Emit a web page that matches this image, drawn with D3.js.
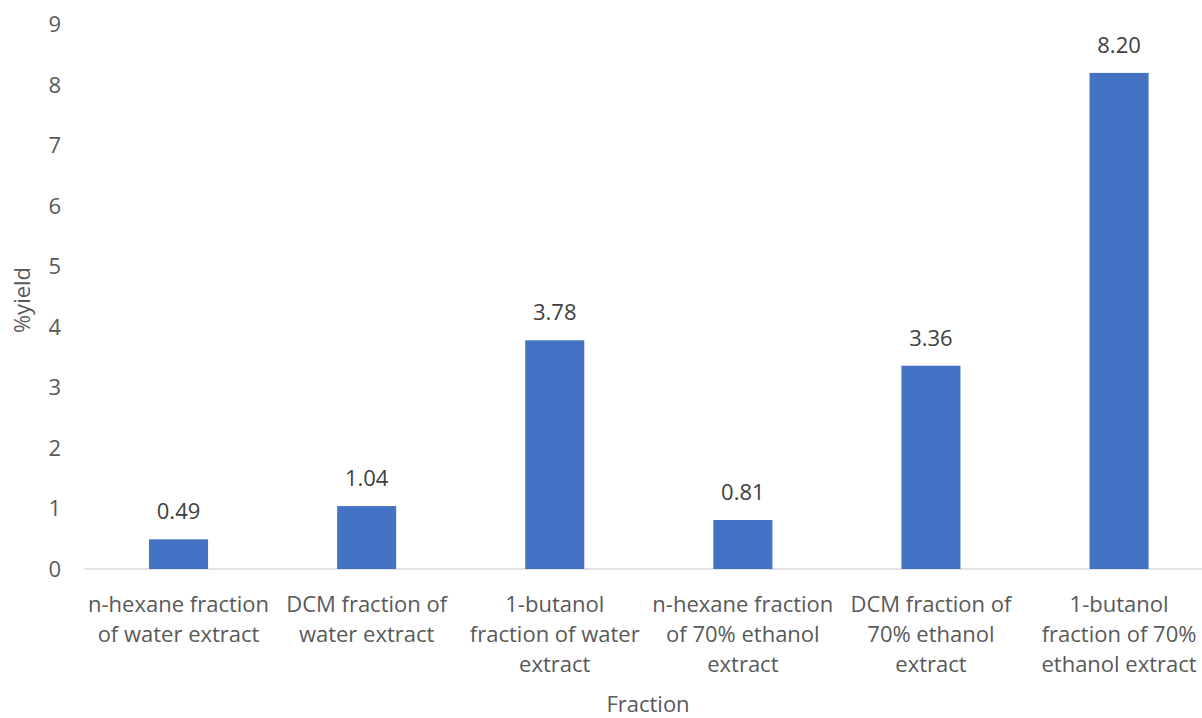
<!DOCTYPE html>
<html>
<head>
<meta charset="utf-8">
<script src="https://cdn.jsdelivr.net/npm/d3@7"></script>
<style>
  html, body { margin: 0; padding: 0; background: #fff; }
  svg { display: block; font-family: "Open Sans", "Noto Sans", sans-serif; }
</style>
</head>
<body>
<svg id="chart" width="1202" height="718"></svg>
<script>
// Fraction yields (%)
const categories = [
  "n-hexane fraction of water extract",
  "DCM fraction of water extract",
  "1-butanol fraction of water extract",
  "n-hexane fraction of 70% ethanol extract",
  "DCM fraction of 70% ethanol extract",
  "1-butanol fraction of 70% ethanol extract"
];
const categoryLines = [
  ["n-hexane fraction", "of water extract"],
  ["DCM fraction of", "water extract"],
  ["1-butanol", "fraction of water", "extract"],
  ["n-hexane fraction", "of 70% ethanol", "extract"],
  ["DCM fraction of", "70% ethanol", "extract"],
  ["1-butanol", "fraction of 70%", "ethanol extract"]
];
const yieldValues = [0.49, 1.04, 3.78, 0.81, 3.36, 8.20];
const yTicks = [0, 1, 2, 3, 4, 5, 6, 7, 8, 9];
const xTitle = "Fraction";
const yTitle = "%yield";

const fs = 22;
const svg = d3.select("#chart");
const left = 84.5, bandStep = 188.1;
const x = d3.scaleBand()
  .domain(categories)
  .range([left, left + bandStep * categories.length])
  .paddingInner(0.686)
  .paddingOuter(0.343);
const y = d3.scaleLinear().domain([0, 9]).range([569, 24.5]);

// baseline
svg.append("line")
  .attr("x1", left).attr("x2", 1202)
  .attr("y1", y(0)).attr("y2", y(0))
  .attr("stroke", "#d9d9d9").attr("stroke-width", 1.5);

// y tick labels
const yAxis = d3.axisLeft(y).tickValues(yTicks).tickSize(0).tickPadding(0);
const gy = svg.append("g").attr("transform", "translate(61,0)").call(yAxis);
gy.select(".domain").remove();
gy.selectAll("text")
  .attr("fill", "#595959")
  .attr("font-size", fs)
  .attr("font-family", "'Open Sans', 'Noto Sans', sans-serif");

// bars
svg.append("g").selectAll("rect")
  .data(yieldValues)
  .join("rect")
  .attr("x", (d, i) => x(categories[i]))
  .attr("width", x.bandwidth())
  .attr("y", d => y(d))
  .attr("height", d => y(0) - y(d))
  .attr("fill", "#4472c4");

// value labels
svg.append("g").selectAll("text")
  .data(yieldValues)
  .join("text")
  .attr("x", (d, i) => x(categories[i]) + x.bandwidth() / 2)
  .attr("y", d => y(d) - 20)
  .attr("text-anchor", "middle")
  .attr("font-size", fs)
  .attr("fill", "#404040")
  .text(d => d.toFixed(2));

// category labels
const gx = svg.append("g");
categoryLines.forEach((lines, i) => {
  const cx = x(categories[i]) + x.bandwidth() / 2;
  const t = gx.append("text")
    .attr("text-anchor", "middle")
    .attr("font-size", fs)
    .attr("fill", "#595959");
  lines.forEach((ln, j) => {
    t.append("tspan").attr("x", cx).attr("y", 612 + j * 30).text(ln);
  });
});

// axis titles
svg.append("text")
  .attr("x", 648).attr("y", 712)
  .attr("text-anchor", "middle")
  .attr("font-size", fs)
  .attr("fill", "#595959")
  .text(xTitle);

svg.append("text")
  .attr("transform", "translate(30,300) rotate(-90)")
  .attr("text-anchor", "middle")
  .attr("font-size", fs)
  .attr("fill", "#595959")
  .text(yTitle);
</script>
</body>
</html>
